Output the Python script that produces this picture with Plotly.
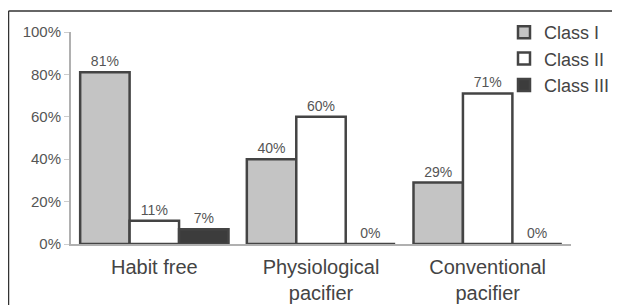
import plotly.graph_objects as go

categories = ["Habit free", "Physiological<br>pacifier", "Conventional<br>pacifier"]
class_i = [81, 40, 29]
class_ii = [11, 60, 71]
class_iii = [7, 0, 0]
series_names = ["Class I", "Class II", "Class III"]
y_ticks = [0, 20, 40, 60, 80, 100]
y_tick_labels = ["0%", "20%", "40%", "60%", "80%", "100%"]

FONT = "Liberation Sans, Arial, sans-serif"
fills = ["#c4c4c4", "#ffffff", "#3c3c3c"]

fig = go.Figure()
for i, (name, vals, col) in enumerate(zip(series_names, [class_i, class_ii, class_iii], fills)):
    fig.add_trace(go.Bar(
        x=categories, y=vals, name=name,
        marker=dict(color=col, line=dict(color="#444444", width=2.5)),
        text=[f"{v}%" for v in vals], textposition="outside",
        textfont=dict(family=FONT, size=14, color="#555555"),
        cliponaxis=False, legendgroup=name,
    ))

fig.update_layout(
    width=612, height=297,
    margin=dict(l=63, r=49, t=24, b=61, autoexpand=False),
    paper_bgcolor="white", plot_bgcolor="white",
    barmode="group", bargap=0.11, bargroupgap=0,
    showlegend=True,
    legend=dict(x=0.866, y=1.085, xanchor="left", yanchor="top",
                traceorder="grouped", tracegroupgap=0,
                font=dict(family=FONT, size=18, color="#444444"),
                bgcolor="rgba(0,0,0,0)"),
    font=dict(family=FONT, color="#444444"),
    xaxis=dict(showline=True, linecolor="#b0b0b0", linewidth=2, ticks="",
               tickfont=dict(family=FONT, size=20, color="#444444"),
               ticklabelstandoff=4,
               showgrid=False, zeroline=False),
    yaxis=dict(range=[0, 100], tickvals=y_ticks, ticktext=y_tick_labels,
               showline=True, linecolor="#b0b0b0", linewidth=2,
               ticks="outside", ticklen=5, tickcolor="#cccccc",
               tickfont=dict(family=FONT, size=15, color="#555555"),
               showgrid=False, zeroline=False),
    shapes=[
        dict(type="line", xref="paper", yref="paper", x0=-0.125, x1=1.2, y0=1.099, y1=1.099,
             line=dict(color="#333333", width=1.5)),
        dict(type="line", xref="paper", yref="paper", x0=-0.125, x1=-0.125, y0=1.099, y1=-0.3,
             line=dict(color="#333333", width=1.5)),
    ],
)

fig.write_html("out.html")
